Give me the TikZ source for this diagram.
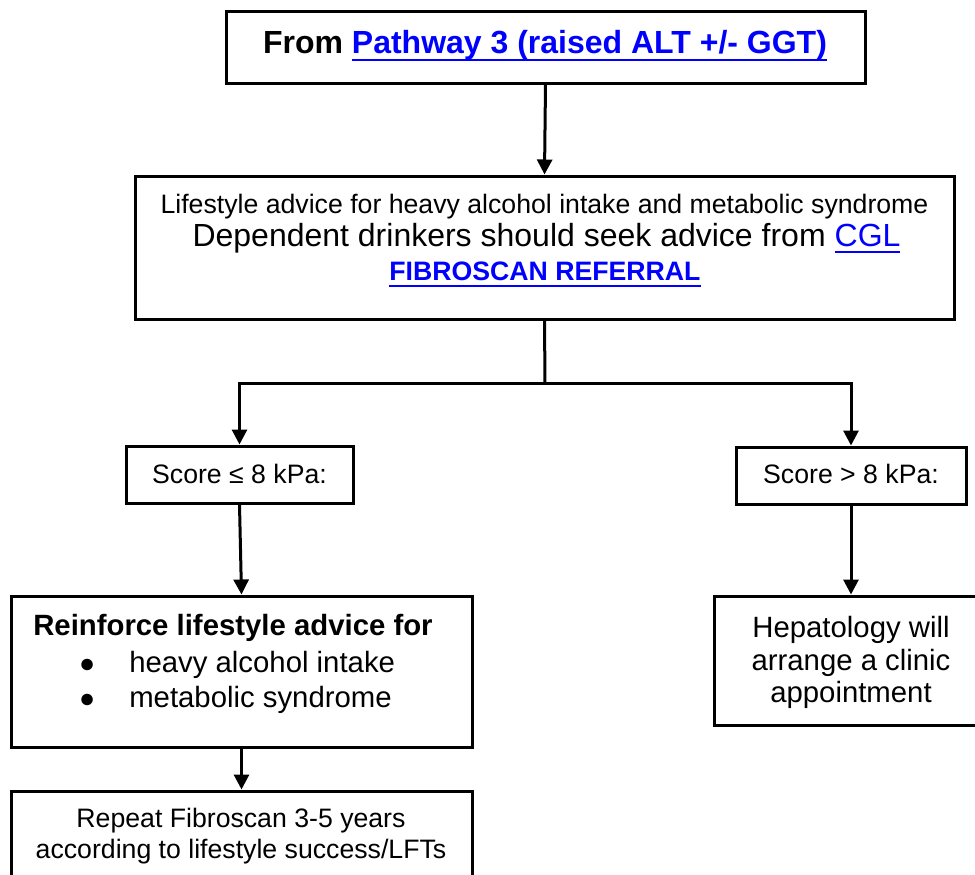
\documentclass[tikz,border=0pt]{standalone}
\usepackage{fontspec}
\setmainfont{Liberation Sans}
\usetikzlibrary{arrows.meta}
\definecolor{linkblue}{RGB}{0,0,255}
\newcommand\myul[2]{\setbox0=\hbox{#2}\rlap{\rule[#1]{\wd0}{1.5pt}}\box0}
\newcommand\mybul{\makebox[63pt][c]{\fontsize{20pt}{20pt}\selectfont ●}}
\begin{document}
\begin{tikzpicture}[x=0.75pt,y=-0.75pt,
  box/.style={draw=black,line width=2.25pt,inner sep=0pt,fill=none},
  txt/.style={inner sep=0pt,anchor=base},
  conn/.style={line width=2.25pt},
  arr/.style={line width=2.25pt,-{Triangle[width=11.25pt,length=11.25pt]}}]
\useasboundingbox (0,0) rectangle (975,875);
\clip (0,0) rectangle (975,875);
\fill[white] (0,0) rectangle (975,875);
% boxes
\node[box,minimum width=479.25pt,minimum height=54pt] (top) at (545.5,47) {};
\node[box,minimum width=614.25pt,minimum height=107.25pt] (mid) at (544.5,247.5) {};
\node[box,minimum width=170.25pt,minimum height=42.75pt] (sa) at (239.5,474.5) {};
\node[box,minimum width=172.5pt,minimum height=42.75pt] (sb) at (851,475.5) {};
\node[box,minimum width=345.75pt,minimum height=113.25pt] (rein) at (241.5,671.5) {};
\node[box,minimum width=345.75pt,minimum height=81.75pt] (rep) at (241.5,845.5) {};
\node[box,minimum width=205.5pt,minimum height=96.75pt] (hep) at (851,660.5) {};
% texts
\node[txt] (ttop) at (545,53) {\fontsize{24pt}{28pt}\selectfont\bfseries From \textcolor{linkblue}{\myul{-6pt}{Pathway 3 (raised ALT +/- GGT)}}};
\node[txt] (m1) at (544.5,213) {\fontsize{20pt}{24pt}\selectfont Lifestyle advice for heavy alcohol intake and metabolic syndrome};
\node[txt] (m2) at (546.5,246) {\fontsize{24pt}{28pt}\selectfont Dependent drinkers should seek advice from \textcolor{linkblue}{\myul{-5.5pt}{CGL}}};
\node[txt] (m3) at (545,280) {\fontsize{20pt}{24pt}\selectfont\bfseries\textcolor{linkblue}{\myul{-5.25pt}{FIBROSCAN REFERRAL}}};
\node[txt] (ta) at (239.5,483) {\fontsize{20pt}{24pt}\selectfont Score ≤ 8 kPa:};
\node[txt] (tb) at (851,483) {\fontsize{20pt}{24pt}\selectfont Score > 8 kPa:};
\node[txt,anchor=base west] (r1) at (33,635) {\fontsize{22pt}{26pt}\selectfont\bfseries Reinforce lifestyle advice for};
\node[txt,anchor=base west] (r2) at (45,672) {\fontsize{22pt}{26pt}\selectfont \mybul heavy alcohol intake};
\node[txt,anchor=base west] (r3) at (45,707) {\fontsize{22pt}{26pt}\selectfont \mybul metabolic syndrome};
\node[txt] (p1) at (241,827) {\fontsize{20pt}{24pt}\selectfont Repeat Fibroscan 3-5 years};
\node[txt] (p2) at (241,858) {\fontsize{20pt}{24pt}\selectfont according to lifestyle success/LFTs};
\node[txt] (h1) at (851,637) {\fontsize{22pt}{26pt}\selectfont Hepatology will};
\node[txt] (h2) at (851,670) {\fontsize{22pt}{26pt}\selectfont arrange a clinic};
\node[txt] (h3) at (851,702) {\fontsize{22pt}{26pt}\selectfont appointment};
% connectors
\coordinate (split) at (545,383);
\draw[arr] (top.south) -- (mid.north);
\draw[conn] (mid.south) -- (split);
\draw[arr] (split) -| (sa.north);
\draw[arr] (split) -| (sb.north);
\draw[arr] (sa.south) -- (rein.north);
\draw[arr] (rein.south) -- (rep.north);
\draw[arr] (sb.south) -- (hep.north);
\end{tikzpicture}
\end{document}
